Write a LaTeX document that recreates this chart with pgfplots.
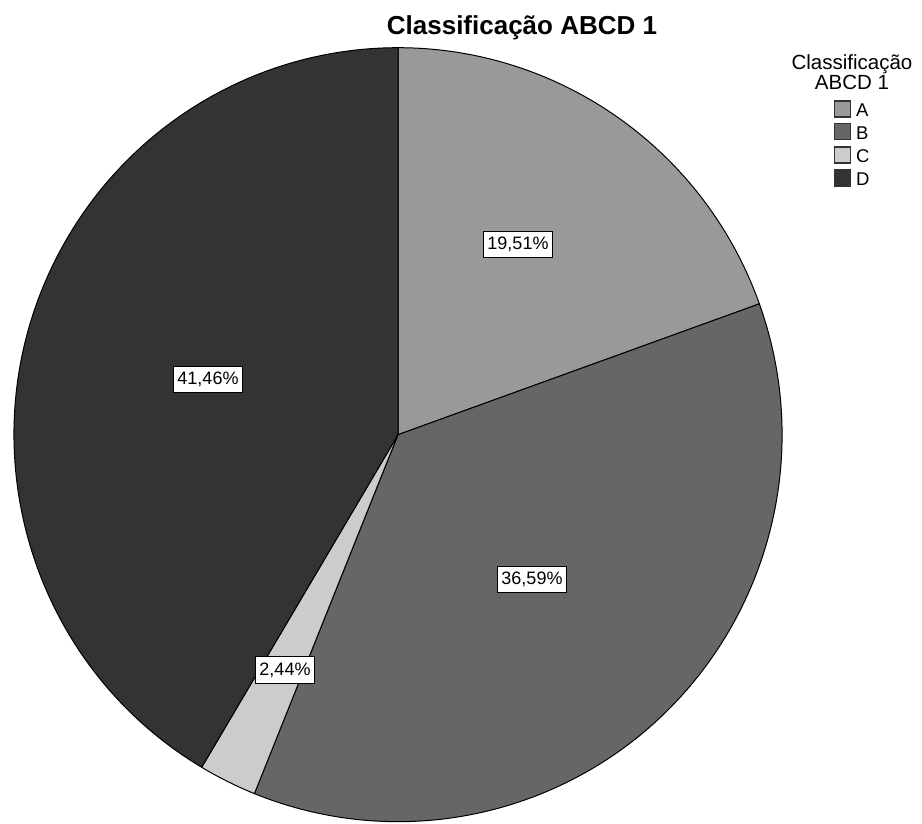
\documentclass[border=0pt]{standalone}
\usepackage{pgfplots}
\pgfplotsset{compat=1.18}
\usepackage{pgfplotstable}
\usepackage{fontspec}
\setmainfont{Liberation Sans}

% Shares of each class, in percent
\pgfplotstableread{
cat pct
A 19.51
B 36.59
C 2.44
D 41.46
}\shares

\definecolor{grA}{HTML}{999999}
\definecolor{grB}{HTML}{666666}
\definecolor{grC}{HTML}{CCCCCC}
\definecolor{grD}{HTML}{333333}

\begin{document}
\begin{tikzpicture}
\useasboundingbox (0,0) rectangle (922pt,823pt);
\pgfplotstablegetelem{0}{pct}\of\shares \let\pA\pgfplotsretval
\pgfplotstablegetelem{1}{pct}\of\shares \let\pB\pgfplotsretval
\pgfplotstablegetelem{2}{pct}\of\shares \let\pC\pgfplotsretval
\pgfplotstablegetelem{3}{pct}\of\shares \let\pD\pgfplotsretval
% slice boundaries, clockwise from 12 o'clock
\pgfmathsetmacro{\aAB}{90-3.6*\pA}
\pgfmathsetmacro{\aBC}{\aAB-3.6*\pB}
\pgfmathsetmacro{\aCD}{\aBC-3.6*\pC}
\pgfmathsetmacro{\aDA}{\aCD-3.6*\pD}
\begin{axis}[
  at={(0,0)}, anchor=south west,
  x=1pt, y=1pt,
  xmin=0, xmax=922, ymin=0, ymax=823,
  scale only axis,
  hide axis,
  clip=false,
]
\tikzset{slice/.style={draw=black, line width=1pt, line join=round}}
\filldraw[slice, fill=grA]
  (axis cs:398,388.3) -- ++(90:384pt and 387pt)
  arc[start angle=90, end angle=\aAB, x radius=384pt, y radius=387pt] -- cycle;
\filldraw[slice, fill=grB]
  (axis cs:398,388.3) -- ++(\aAB:384pt and 387pt)
  arc[start angle=\aAB, end angle=\aBC, x radius=384pt, y radius=387pt] -- cycle;
\filldraw[slice, fill=grC]
  (axis cs:398,388.3) -- ++(\aBC:384pt and 387pt)
  arc[start angle=\aBC, end angle=\aCD, x radius=384pt, y radius=387pt] -- cycle;
\filldraw[slice, fill=grD]
  (axis cs:398,388.3) -- ++(\aCD:384pt and 387pt)
  arc[start angle=\aCD, end angle=\aDA, x radius=384pt, y radius=387pt] -- cycle;

% value labels
\tikzset{vlab/.style={draw=black, fill=white, line width=1.1pt, inner xsep=4pt,
  inner ysep=6pt, font=\fontsize{18}{20}\selectfont}}
\node[vlab] at (axis cs:518,578.5) {19,51\%};
\node[vlab] at (axis cs:532,243.5) {36,59\%};
\node[vlab] at (axis cs:285,153) {2,44\%};
\node[vlab] at (axis cs:208,443.5) {41,46\%};

% title
\node[anchor=base, font=\fontsize{26}{30}\selectfont\bfseries] at (axis cs:522,788) {Classificação ABCD 1};

% legend
\node[anchor=base, font=\fontsize{20.5}{22}\selectfont] at (axis cs:852,753) {Classificação};
\node[anchor=base, font=\fontsize{20.5}{22}\selectfont] at (axis cs:852,733) {ABCD 1};
\tikzset{lbox/.style={draw=black!80, line width=1.2pt}}
\filldraw[lbox, fill=grA] (axis cs:834.5,706) rectangle (axis cs:850.5,722);
\filldraw[lbox, fill=grB] (axis cs:834.5,683.5) rectangle (axis cs:850.5,699.5);
\filldraw[lbox, fill=grC] (axis cs:834.5,660) rectangle (axis cs:850.5,676);
\filldraw[lbox, fill=grD] (axis cs:834.5,637) rectangle (axis cs:850.5,653);
\tikzset{ltxt/.style={anchor=base west, inner xsep=0pt, font=\fontsize{18.5}{20}\selectfont}}
\node[ltxt] at (axis cs:856,706) {A};
\node[ltxt] at (axis cs:856,683.5) {B};
\node[ltxt] at (axis cs:856,660) {C};
\node[ltxt] at (axis cs:856,637) {D};
\end{axis}
\end{tikzpicture}
\end{document}
